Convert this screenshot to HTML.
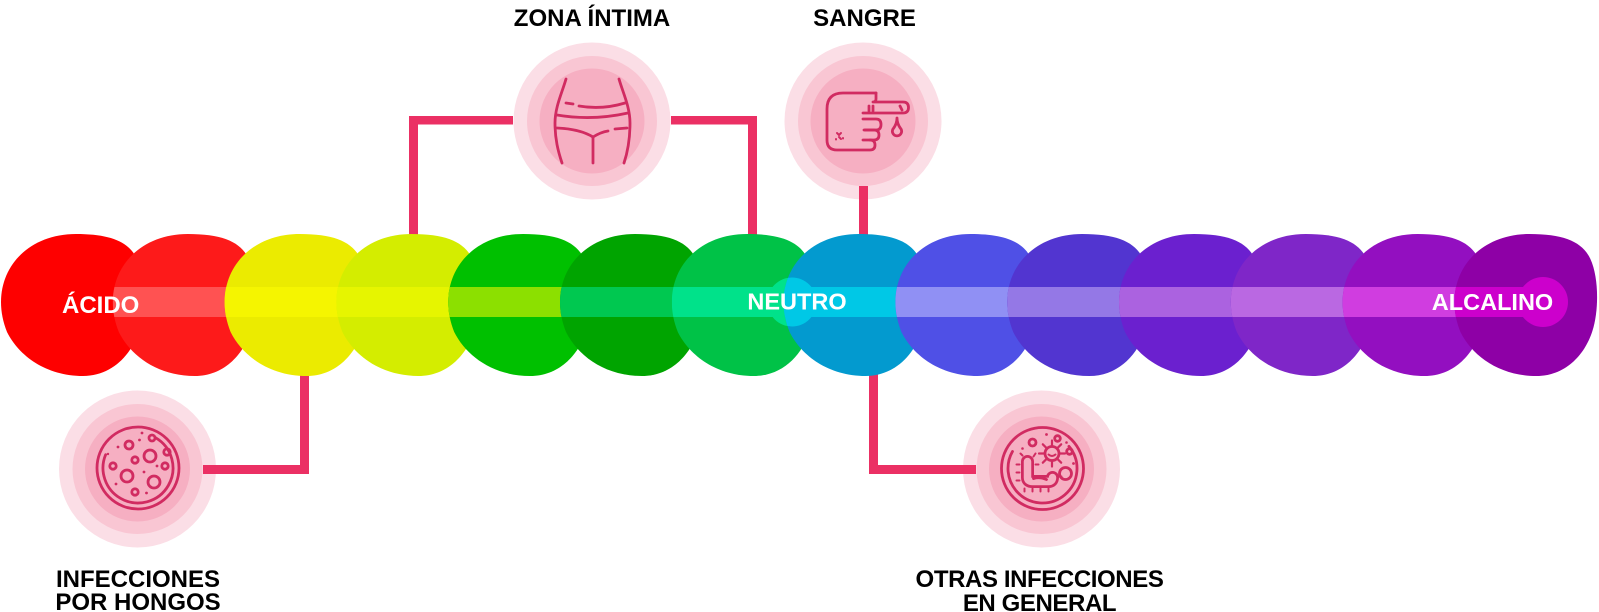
<!DOCTYPE html>
<html><head><meta charset="utf-8"><style>
html,body{margin:0;padding:0;background:#fff;}
svg{display:block;}
text{font-family:"Liberation Sans",Arial,sans-serif;font-weight:bold;}
</style></head><body>
<svg width="1599" height="612" viewBox="0 0 1599 612" xmlns="http://www.w3.org/2000/svg" xmlns:xlink="http://www.w3.org/1999/xlink">
<defs>
<path id="b" d="M 0 68 C 0 30, 30 0, 75 0 C 110 0, 128 8, 136 25 C 144 42, 145 75, 138 97 C 130 122, 110 142, 82 142 C 45 142, 18 122, 6 98 C 2 88, 0 78, 0 68 Z"/>
<clipPath id="cb"><use xlink:href="#b" href="#b"/></clipPath>
<g id="bar"><rect x="100" y="287" width="1443" height="30"/><circle cx="792" cy="302" r="24.5"/><circle cx="1543" cy="302" r="25"/></g>
<g id="rings"><circle r="78.5" fill="#FBDEE6"/><circle r="65" fill="#F9C6D3"/><circle r="52.5" fill="#F6AFC2"/></g>
</defs>

<!-- connectors under blobs -->
<g fill="#EB3064">
<rect x="300" y="330" width="9" height="144"/>
<rect x="409" y="116" width="9" height="150"/>
<rect x="748" y="116" width="9" height="150"/>
<rect x="859" y="186" width="9" height="80"/>
<rect x="869" y="330" width="9" height="144"/>
<rect x="409" y="116" width="104" height="8.5"/>
<rect x="671" y="116" width="86" height="8.5"/>
</g>

<!-- blobs -->
<g transform="translate(1,234)"><use href="#b" xlink:href="#b" fill="#FE0000"/></g>
<g transform="translate(112.8,234)"><use href="#b" xlink:href="#b" fill="#FD1A1A"/><g clip-path="url(#cb)"><g transform="translate(-112.8,-234)"><use href="#bar" xlink:href="#bar" fill="#FF5252"/></g></g></g>
<g transform="translate(224.6,234)"><use href="#b" xlink:href="#b" fill="#EBEB00"/><g clip-path="url(#cb)"><g transform="translate(-224.6,-234)"><use href="#bar" xlink:href="#bar" fill="#F5F500"/></g></g></g>
<g transform="translate(336.4,234)"><use href="#b" xlink:href="#b" fill="#D4ED00"/><g clip-path="url(#cb)"><g transform="translate(-336.4,-234)"><use href="#bar" xlink:href="#bar" fill="#E6F500"/></g></g></g>
<g transform="translate(448.2,234)"><use href="#b" xlink:href="#b" fill="#00C000"/><g clip-path="url(#cb)"><g transform="translate(-448.2,-234)"><use href="#bar" xlink:href="#bar" fill="#8CE000"/></g></g></g>
<g transform="translate(560,234)"><use href="#b" xlink:href="#b" fill="#00A400"/><g clip-path="url(#cb)"><g transform="translate(-560,-234)"><use href="#bar" xlink:href="#bar" fill="#00C850"/></g></g></g>
<g transform="translate(671.8,234)"><use href="#b" xlink:href="#b" fill="#00C247"/><g clip-path="url(#cb)"><g transform="translate(-671.8,-234)"><use href="#bar" xlink:href="#bar" fill="#00E28A"/></g></g></g>
<g transform="translate(783.6,234)"><use href="#b" xlink:href="#b" fill="#039ACF"/><g clip-path="url(#cb)"><g transform="translate(-783.6,-234)"><use href="#bar" xlink:href="#bar" fill="#00C8E6"/></g></g></g>
<g transform="translate(895.4,234)"><use href="#b" xlink:href="#b" fill="#4F50E6"/><g clip-path="url(#cb)"><g transform="translate(-895.4,-234)"><use href="#bar" xlink:href="#bar" fill="#9090F4"/></g></g></g>
<g transform="translate(1007.2,234)"><use href="#b" xlink:href="#b" fill="#5235D0"/><g clip-path="url(#cb)"><g transform="translate(-1007.2,-234)"><use href="#bar" xlink:href="#bar" fill="#9478E6"/></g></g></g>
<g transform="translate(1119,234)"><use href="#b" xlink:href="#b" fill="#6B20CF"/><g clip-path="url(#cb)"><g transform="translate(-1119,-234)"><use href="#bar" xlink:href="#bar" fill="#AB62E0"/></g></g></g>
<g transform="translate(1230.8,234)"><use href="#b" xlink:href="#b" fill="#7F26C8"/><g clip-path="url(#cb)"><g transform="translate(-1230.8,-234)"><use href="#bar" xlink:href="#bar" fill="#BA68E2"/></g></g></g>
<g transform="translate(1342.6,234)"><use href="#b" xlink:href="#b" fill="#930FC0"/><g clip-path="url(#cb)"><g transform="translate(-1342.6,-234)"><use href="#bar" xlink:href="#bar" fill="#D03DE0"/></g></g></g>
<g transform="translate(1454.4,234)"><use href="#b" xlink:href="#b" fill="#8E00A6"/><g clip-path="url(#cb)"><g transform="translate(-1454.4,-234)"><use href="#bar" xlink:href="#bar" fill="#CC00CC"/></g></g></g>

<!-- bar labels -->
<g fill="#fff">
<text x="62" y="313" font-size="24">ÁCIDO</text>
<text x="797" y="309.5" font-size="23.5" text-anchor="middle">NEUTRO</text>
<text x="1492.5" y="310" font-size="23.5" text-anchor="middle">ALCALINO</text>
</g>

<!-- circles -->
<use href="#rings" xlink:href="#rings" transform="translate(592,121)"/>
<use href="#rings" xlink:href="#rings" transform="translate(863,121)"/>
<use href="#rings" xlink:href="#rings" transform="translate(137.5,469)"/>
<use href="#rings" xlink:href="#rings" transform="translate(1041.5,469)"/>

<!-- connectors over outer rings -->
<g fill="#EB3064">
<rect x="203" y="465" width="106" height="9"/>
<rect x="869" y="465" width="107" height="9"/>
<rect x="859" y="186" width="9" height="14"/>
</g>

<!-- icons -->
<g fill="none" stroke="#D12B61" stroke-width="2.8" stroke-linecap="round" stroke-linejoin="round">
<!-- zona intima -->
<g transform="translate(592,121)">
<path d="M -26 -42 C -30 -28, -37 -14, -37 2 C -37 18, -34 30, -30 42"/>
<path d="M 27 -42 C 31 -28, 38 -14, 38 2 C 38 18, 36 30, 32 42"/>
<path d="M -26 -18 L -19 -17"/>
<path d="M -13 -15 Q 10 -11 33 -18"/>
<path d="M -35 -6 Q 0 0 36 -8"/>
<path d="M -35 7 Q -12 8 1 16 Q 9 11 16 10"/>
<path d="M 23 8 L 35 7"/>
<path d="M 1 16 V 42"/>
</g>
<!-- sangre -->
<g transform="translate(863,121)">
<path d="M 13 -28 H -20 Q -36 -28 -36 -12 V 19 Q -36 29 -26 29 H 7 Q 12 29 12 24 Q 12 19 7 19"/>
<path d="M 0 19 H 11 Q 16 19 16 14 Q 16 9 11 9 H 1"/>
<path d="M 2 9 H 13 Q 18 9 18 3.5 Q 18 -2 13 -2 H 0"/>
<path d="M 0 -8 H 40 Q 45.5 -8 45.5 -13.5 Q 45.5 -19 40 -19 H 10 Q 13 -19 13 -22 V -28"/>
<path d="M 37 -15 L 39 -11"/>
<path d="M 6 -15 V -10 M 10 -15 V -10"/>
<path d="M 34 -3 Q 34 3 30 8 A 4.6 4.6 0 1 0 38 8 Q 34 3 34 -3 Z"/>
<path d="M -26 12 l 2 2 M -22 12 l -2 2 M -24 16 l 2 2 M -20 17 l 0 0.5 M -27 18 l 0 0.5" stroke-width="2"/>
</g>
<!-- hongos -->
<g transform="translate(138,468)">
<circle r="41"/>
<circle r="35" stroke-dasharray="160 60" transform="rotate(-60)"/>
<circle cx="-9" cy="-23" r="4"/>
<circle cx="14" cy="-30" r="3"/>
<circle cx="12" cy="-12" r="6"/>
<circle cx="29" cy="-16" r="3.2"/>
<circle cx="-3" cy="-8" r="3.2"/>
<circle cx="-25" cy="-2" r="3.2"/>
<circle cx="27" cy="-2" r="3.2"/>
<circle cx="-11" cy="8" r="6"/>
<circle cx="16" cy="14" r="6"/>
<circle cx="-3" cy="24" r="3.2"/>
<g fill="#D12B61" stroke="none">
<circle cx="4" cy="-35" r="1.4"/><circle cx="-20" cy="-21" r="1.4"/><circle cx="1.5" cy="-28" r="1.4"/>
<circle cx="19" cy="-2" r="1.4"/><circle cx="6" cy="4" r="1.4"/><circle cx="-22" cy="16" r="1.4"/>
<circle cx="8.5" cy="25" r="1.4"/><circle cx="-30" cy="-14" r="1.2"/>
</g>
</g>
<!-- otras -->
<g transform="translate(1042.5,468.5)">
<circle r="41"/>
<circle r="34.5" stroke-dasharray="150 67" transform="rotate(-40)"/>
<path d="M -15 -7 V 9 Q -15 13 -10 13 H 6 Q 10 13 10 9" stroke-width="13" stroke="#D12B61"/>
<path d="M -15 -7 V 9 Q -15 13 -10 13 H 6 Q 10 13 10 9" stroke-width="7.5" stroke="#F6AFC2"/>
<path d="M -9 10 Q -3 8 4 11"/>
<path d="M -23 -4 h -3 M -23 4 h -3 M -23 12 h -3 M -18 20 v 3 M -10 20 v 3 M -2 20 v 3 M 6 20 v 3 M 16 8 h 3 M -7 -4 h 3 M -9 -12 l 2 -3 M -20 -13 l -2 -2" stroke-width="2"/>
<circle cx="9.5" cy="-15" r="7"/>
<path d="M 9.5 -23 v -5 M 9.5 -7 v 5 M 1.5 -15 h -5 M 17.5 -15 h 5 M 3.8 -20.7 l -3.5 -3.5 M 15.2 -20.7 l 3.5 -3.5 M 3.8 -9.3 l -3.5 3.5 M 15.2 -9.3 l 3.5 3.5" stroke-width="2.2"/>
<path d="M 6 -14 Q 9.5 -11 13 -14" stroke-width="2"/>
<circle cx="-10" cy="-26" r="3.5"/>
<circle cx="15" cy="-30" r="2.8"/>
<circle cx="27" cy="-17" r="2.8"/>
<circle cx="23" cy="5" r="6"/>
<g fill="#D12B61" stroke="none">
<circle cx="4" cy="-34" r="1.4"/><circle cx="31" cy="-5" r="1.4"/><circle cx="-20" cy="-20" r="1.3"/><circle cx="24" cy="-26" r="1.3"/>
</g>
</g>
</g>

<!-- labels -->
<g fill="#000" font-size="24" text-anchor="middle">
<text x="592" y="26">ZONA ÍNTIMA</text>
<text x="864.5" y="26">SANGRE</text>
<text x="138" y="587">INFECCIONES</text>
<text x="138" y="610">POR HONGOS</text>
<text x="1039.5" y="587" letter-spacing="-0.4">OTRAS INFECCIONES</text>
<text x="1039.5" y="611" letter-spacing="-0.4">EN GENERAL</text>
</g>
</svg>
</body></html>
